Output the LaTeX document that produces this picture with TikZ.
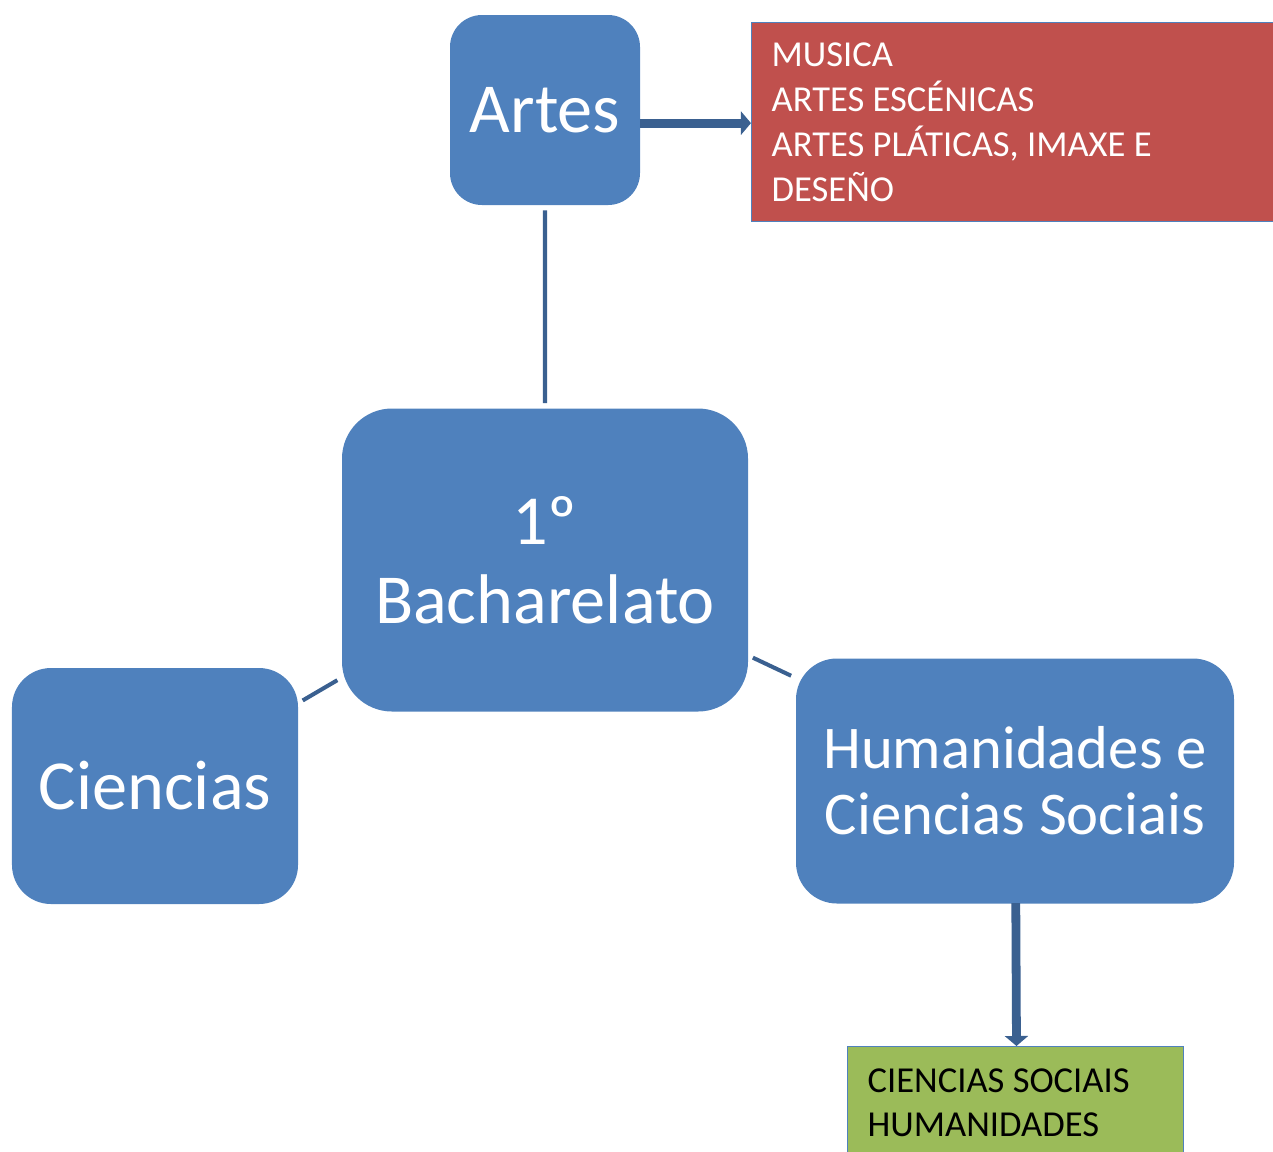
\documentclass[tikz,border=0pt]{standalone}
\usepackage{fontspec}
\setmainfont{Carlito}
\usetikzlibrary{arrows.meta}
\definecolor{azul}{HTML}{4F81BD}
\definecolor{azulosc}{HTML}{3A6090}
\definecolor{vermello}{HTML}{C0504D}
\definecolor{verde}{HTML}{9BBB59}
\begin{document}
\begin{tikzpicture}[scale=0.2]
\tikzstyle{every node}+=[inner sep=0pt]
\tikzstyle{caixa}=[fill=azul, text=white, align=center, font=\fontsize{40}{45}\selectfont]
\tikzstyle{lista}=[draw=azul, line width=0.8pt, align=flush left, inner xsep=0.4cm, anchor=north west, font=\fontsize{20.8}{25.5}\selectfont]
\tikzstyle{enlace}=[azulosc, line width=2.3pt, shorten <=0.1cm, shorten >=0.1cm]
\tikzstyle{frecha}=[azulosc, line width=5pt, -{Triangle[width=0.46cm,length=0.2cm]}]
\useasboundingbox (0,0) rectangle (127.3,-115.1);
\node [caixa, minimum width=3.8cm, minimum height=3.8cm, rounded corners=0.64cm] (artes) at (54.5,-11) {Artes};
\node [caixa, minimum width=8.12cm, minimum height=6.06cm, rounded corners=1cm] (bach) at (54.5,-56) {1º\\Bacharelato};
\node [caixa, minimum width=5.72cm, minimum height=4.72cm, rounded corners=0.78cm] (cien) at (15.5,-78.6) {Ciencias};
\node [caixa, font=\fontsize{34.5}{37.5}\selectfont, minimum width=8.76cm, minimum height=4.9cm, rounded corners=0.82cm] (hum) at (101.5,-78.1) {Humanidades e\\Ciencias Sociais};
\node [lista, fill=vermello, text=white, text width=9.8cm, minimum height=3.98cm] (artlist) at (75.1,-2.2) {MUSICA\\ARTES ESCÉNICAS\\ARTES PLÁTICAS, IMAXE E\\DESEÑO};
\node [lista, fill=verde, text=black, text width=5.92cm, minimum height=2.24cm] (humlist) at (84.7,-104.6) {CIENCIAS SOCIAIS\\HUMANIDADES};
\draw [enlace] (artes) -- (bach);
\draw [enlace] (bach) -- (cien);
\draw [enlace] (bach) -- (hum);
\draw [frecha] ([xshift=-0.04cm,yshift=-0.09cm]artes.east |- artlist.west) -- ([yshift=-0.09cm]artlist.west);
\draw [frecha] ([xshift=0.08cm,yshift=0.08cm]hum.south) -- ([xshift=0.08cm]humlist.north);
\end{tikzpicture}
\end{document}
